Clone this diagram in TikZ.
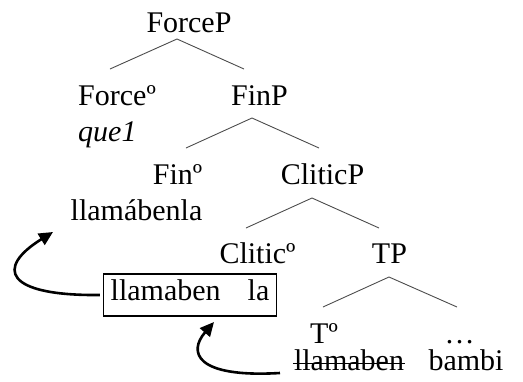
\documentclass[tikz,border=0pt]{standalone}
\usepackage{fontspec}
\setmainfont{Liberation Serif}
\usetikzlibrary{arrows.meta}
\begin{document}
\begin{tikzpicture}[x=1pt,y=-1pt,
  lbl/.style={inner sep=0pt,anchor=base,font=\fontsize{30}{36}\selectfont},
  lblw/.style={lbl,anchor=base west},
  branch/.style={draw=black!70,line width=0.9pt},
  move/.style={draw=black,line width=2.6pt,-{Triangle[length=14pt,width=13pt]}},
  strike/.style={draw=black,line width=1.3pt}]
\useasboundingbox (0,0) rectangle (523,381);

% labels
\node[lbl]  (forceP) at (189,32)  {ForceP};
\node[lblw] (forceH) at (78,105)  {Forceº};
\node[lblw,font=\fontsize{30}{36}\selectfont\itshape] (que) at (78,141) {que1};
\node[lbl]  (finP)   at (259.5,105) {FinP};
\node[lbl]  (finH)   at (177.5,184) {Finº};
\node[lbl]  (fused)  at (136.5,220) {llamábenla};
\node[lbl]  (cliticP) at (322.5,184) {CliticP};
\node[lbl]  (cliticH) at (257.5,263) {Cliticº};
\node[lbl]  (tp)     at (389.5,263) {TP};
\node[lbl,draw=black,line width=1.6pt,inner xsep=7pt,inner ysep=0pt,
      text height=26pt,text depth=16pt] (box) at (190,300)
      {llamaben\hspace{27pt}la\hspace{5pt}};
\node[lbl,text depth=0pt]  (tH)   at (324,343) {Tº};
\node[lbl,text depth=0pt]  (dots) at (459.5,343) {\dots};
\node[lbl,text height=21pt] (verb)  at (349,370) {llamaben};
\node[lbl,text height=21pt] (bambi) at (466,370) {bambi};

% branch end points
\coordinate (forceP-top) at (177,39);
\coordinate (forceP-l)   at (110,69);
\coordinate (forceP-r)   at (244,69);
\coordinate (finP-top)   at (252,118);
\coordinate (finP-l)     at (186,148);
\coordinate (finP-r)     at (319,148);
\coordinate (cliticP-top) at (312,198);
\coordinate (cliticP-l)   at (246,228);
\coordinate (cliticP-r)   at (379,228);
\coordinate (tp-top)     at (389,277);
\coordinate (tp-l)       at (323,307);
\coordinate (tp-r)       at (457,307);

\draw[branch] (forceP-l) -- (forceP-top) -- (forceP-r);
\draw[branch] (finP-l) -- (finP-top) -- (finP-r);
\draw[branch] (cliticP-l) -- (cliticP-top) -- (cliticP-r);
\draw[branch] (tp-l) -- (tp-top) -- (tp-r);

% deleted copy of the verb
\draw[strike] ([xshift=-1pt,yshift=6.5pt]verb.base west) -- ([xshift=1pt,yshift=6.5pt]verb.base east);

% head movement arrows
\coordinate (tip1) at (53,232);
\coordinate (tip2) at (214,322);
\coordinate (start2) at (280,373);
\draw[move] ([xshift=-3pt]box.west) .. controls (5,296) and (-5,268) .. (tip1);
\draw[move] (start2) .. controls (195,378) and (188,352) .. (tip2);
\end{tikzpicture}
\end{document}
